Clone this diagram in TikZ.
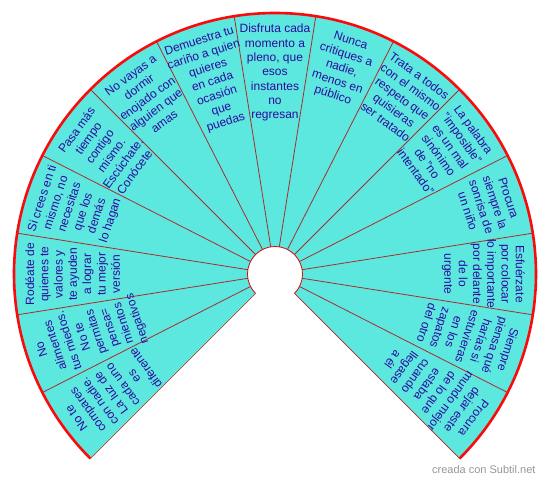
\documentclass[tikz,border=0pt]{standalone}
\usepackage{fontspec}
\setmainfont{Liberation Sans}
\usepackage{tikz}
\usetikzlibrary{calc}
\definecolor{ruedaCyan}   {RGB}{92,  232, 222}
\definecolor{ruedaRed}    {RGB}{250,  10,  10}
\definecolor{ruedaBrown}  {RGB}{170,  45,  45}
\definecolor{ruedaIndigo} {RGB}{45,   10, 160}
\definecolor{ruedaGray}   {RGB}{150, 150, 150}
\tikzset{
  frase/.style={font=\fontsize{12}{14.3}\selectfont,ruedaIndigo,
    align=center,inner sep=0pt,anchor=north}
}
\begin{document}
\begin{tikzpicture}[x=1pt,y=1pt]
        \useasboundingbox (0,0) rectangle (550,482);
        \coordinate (c) at (275,208);
        % Abanico
        \fill[ruedaCyan] ($(c)+(225:27.5)$) -- ++(225:233.5)
          arc[start angle=225,end angle=-45,radius=261]
          -- ($(c)+(-45:27.5)$)
          arc[start angle=-45,end angle=225,radius=27.5] -- cycle;
        % Divisiones
        \foreach \a in {207,189,...,-27}{
          \draw[ruedaBrown,line width=0.8pt]
            ($(c)+(\a:27.5)$) -- ($(c)+(\a:261)$);
        }
        \draw[ruedaBrown!80!red,line width=0.7pt]
          ($(c)+(225:27.5)$) -- ($(c)+(225:261)$);
        \draw[ruedaBrown!80!red,line width=0.7pt]
          ($(c)+(-45:27.5)$) -- ($(c)+(-45:261)$);
        \draw[ruedaRed!85!black,line width=0.8pt]
          ($(c)+(-45:27.5)$) arc[start angle=-45,end angle=225,radius=27.5];
        \draw[ruedaRed,line width=2.6pt]
          ($(c)+(225:261)$) arc[start angle=225,end angle=-45,radius=261];
        % Frases
        \foreach \a/\n/\txt in {
          216/s1/{No te\\compares\\con nadie.\\La luz de\\cada uno\\es\\diferente},
          198/s2/{No\\alimentes\\tus miedos.\\No te\\permitas\\pensa=\\mientos\\negativos},
          180/s3/{Rodéate de\\quienes te\\valores y\\te ayuden\\a lograr\\tu mejor\\versión},
          162/s4/{Si crees en ti\\mismo{,} no\\necesitas\\que los\\demás\\lo hagan},
          144/s5/{Pasa más\\tiempo\\contigo\\mismo.\\Escúchate.\\Conócete},
          126/s6/{No vayas a\\dormir\\enojado con\\alguien que\\amas},
          108/s7/{Demuestra tu\\cariño a quien\\quieres\\en cada\\ocasión\\que\\puedas},
          90/s8/{Disfruta cada\\momento a\\pleno{,} que\\esos\\instantes\\no\\regresan},
          72/s9/{Nunca\\critiques a\\nadie{,}\\menos en\\público},
          54/s10/{Trata a todos\\con el mismo\\respeto que\\quisieras\\ser tratado},
          36/s11/{La palabra\\"imposible"\\es un mal\\sinónimo\\de "no\\intentado"},
          18/s12/{Procura\\siempre la\\sonrisa de\\un niño},
          0/s13/{Esfuérzate\\por colocar\\lo importante\\por delante\\de lo\\urgente},
          -18/s14/{Siempre\\piensa qué\\harías si\\estuvieras\\en los\\zapatos\\del otro},
          -36/s15/{Procura\\dejar este\\mundo mejor\\de lo que\\estaba\\cuando\\llegase\\a él}}{
          \node[frase,rotate=\a-90] (\n) at ($(c)+(\a:250)$) {\txt};
        }
        \node[font=\fontsize{11}{13}\selectfont,ruedaGray,anchor=base east]
          (firma) at (539,8) {creada con Subtil.net};
      \end{tikzpicture}
\end{document}
